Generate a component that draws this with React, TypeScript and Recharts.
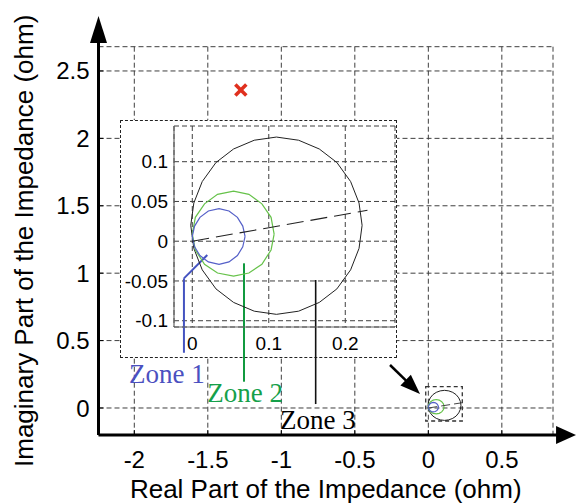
import React from 'react';
import {
  ScatterChart,
  Scatter,
  XAxis,
  YAxis,
  CartesianGrid,
  ReferenceLine,
  ReferenceArea,
  ReferenceDot,
} from 'recharts';

// ---------- data (ohm) ----------
// Zone 3 mho circle (black)
const zone3Circle = [
  { x: 0.222, y: 0.02 }, { x: 0.218, y: 0.048 }, { x: 0.207, y: 0.075 }, { x: 0.189, y: 0.099 },
  { x: 0.166, y: 0.116 }, { x: 0.139, y: 0.127 }, { x: 0.11, y: 0.131 }, { x: 0.081, y: 0.127 },
  { x: 0.054, y: 0.116 }, { x: 0.031, y: 0.099 }, { x: 0.013, y: 0.075 }, { x: 0.002, y: 0.048 },
  { x: -0.002, y: 0.02 }, { x: 0.002, y: -0.009 }, { x: 0.013, y: -0.036 }, { x: 0.031, y: -0.06 },
  { x: 0.054, y: -0.077 }, { x: 0.081, y: -0.088 }, { x: 0.11, y: -0.092 }, { x: 0.139, y: -0.088 },
  { x: 0.166, y: -0.077 }, { x: 0.189, y: -0.06 }, { x: 0.207, y: -0.036 }, { x: 0.218, y: -0.009 },
  { x: 0.222, y: 0.02 },
];
// Zone 2 mho circle (green)
const zone2Circle = [
  { x: 0.107, y: 0.009 }, { x: 0.103, y: 0.03 }, { x: 0.091, y: 0.047 }, { x: 0.074, y: 0.059 },
  { x: 0.054, y: 0.063 }, { x: 0.033, y: 0.059 }, { x: 0.016, y: 0.047 }, { x: 0.004, y: 0.03 },
  { x: 0.0, y: 0.009 }, { x: 0.004, y: -0.011 }, { x: 0.016, y: -0.029 }, { x: 0.033, y: -0.04 },
  { x: 0.054, y: -0.044 }, { x: 0.074, y: -0.04 }, { x: 0.091, y: -0.029 }, { x: 0.103, y: -0.011 },
  { x: 0.107, y: 0.009 },
];
// Zone 1 mho circle (blue)
const zone1Circle = [
  { x: 0.069, y: 0.006 }, { x: 0.066, y: 0.019 }, { x: 0.059, y: 0.03 }, { x: 0.048, y: 0.038 },
  { x: 0.035, y: 0.041 }, { x: 0.021, y: 0.038 }, { x: 0.01, y: 0.03 }, { x: 0.003, y: 0.019 },
  { x: 0.0, y: 0.006 }, { x: 0.003, y: -0.007 }, { x: 0.01, y: -0.018 }, { x: 0.021, y: -0.026 },
  { x: 0.035, y: -0.029 }, { x: 0.048, y: -0.026 }, { x: 0.059, y: -0.018 }, { x: 0.066, y: -0.007 },
  { x: 0.069, y: 0.006 },
];
// line impedance characteristic (dashed)
const lineCharacteristic = [
  { x: 0.0, y: 0.0 },
  { x: 0.229, y: 0.0389 },
];
// measured impedance (red cross)
const measuredImpedance = [{ x: -1.2755, y: 2.359 }];

// ticks
const mainXTicks = [-2, -1.5, -1, -0.5, 0, 0.5];
const mainYTicks = [0, 0.5, 1, 1.5, 2, 2.5];
const insetXTicks = [0, 0.1, 0.2];
const insetYTicks = [-0.1, -0.05, 0, 0.05, 0.1];

// axis ranges
const mainXDomain = [-2.2435, 0.848];
const mainYDomain = [-0.2003, 2.68];
const insetXDomain = [-0.0239, 0.265];
const insetYDomain = [-0.1079, 0.1449];

// axis arrows, zoom box and zoom arrow (main chart, ohm)
const xAxisArrow = [{ x: -2.2435, y: -0.2003 }, { x: 1.0048, y: -0.2003 }];
const yAxisArrow = [{ x: -2.2435, y: -0.2003 }, { x: -2.2435, y: 2.908 }];
const zoomBoxX = [-0.0177, 0.231];
const zoomBoxY = [-0.0964, 0.158];
const zoomArrow = [{ x: -0.2605, y: 0.319 }, { x: -0.0565, y: 0.1039 }];

// zone leader lines and labels (inset chart, ohm)
const zone1Leader = [{ x: 0.0196, y: -0.0174 }, { x: -0.0109, y: -0.0467 }, { x: -0.0109, y: -0.1403 }];
const zone2Leader = [{ x: 0.0676, y: -0.0278 }, { x: 0.0676, y: -0.1767 }];
const zone3Leader = [{ x: 0.1613, y: -0.0488 }, { x: 0.1613, y: -0.2048 }];
const zoneNames = ['Zone 1', 'Zone 2', 'Zone 3'];
const zoneLabelAnchors = [
  { x: -0.0332, y: -0.1667 },
  { x: 0.0691, y: -0.1898 },
  { x: 0.1642, y: -0.2242 },
];

// ---------- styles ----------
const SANS = 'Liberation Sans, Arial, Helvetica, sans-serif';
const SERIF = 'Liberation Serif, Times New Roman, serif';
const GRID = '#3f3f3f';
const C1 = '#5560c8';
const C2 = '#66c24a';
const C3 = '#222';
const LEAD1 = '#4453c0';
const LEAD2 = '#119a3f';
const LEAD3 = '#111';
const zoneColors = ['#4b50c0', '#15a04a', '#000'];

const noPoint = () => <g />;

const XMark = (p: any) => {
  const s = 5.5;
  return (
    <g>
      <line x1={p.cx - s} y1={p.cy - s} x2={p.cx + s} y2={p.cy + s} stroke="#e0301e" strokeWidth={3.5} />
      <line x1={p.cx - s} y1={p.cy + s} x2={p.cx + s} y2={p.cy - s} stroke="#e0301e" strokeWidth={3.5} />
    </g>
  );
};

const makeArrow = (len: number, wid: number, sw: number) => (p: any) => {
  const { x1, y1, x2, y2 } = p;
  const dx = x2 - x1;
  const dy = y2 - y1;
  const d = Math.sqrt(dx * dx + dy * dy) || 1;
  const ux = dx / d;
  const uy = dy / d;
  const bx = x2 - ux * len;
  const by = y2 - uy * len;
  const nx = -uy * (wid / 2);
  const ny = ux * (wid / 2);
  return (
    <g>
      <line x1={x1} y1={y1} x2={bx + ux * 1} y2={by + uy * 1} stroke="#000" strokeWidth={sw} />
      <polygon points={`${x2},${y2} ${bx + nx},${by + ny} ${bx - nx},${by - ny}`} fill="#000" />
    </g>
  );
};

const segs = (pts: { x: number; y: number }[]) =>
  pts.slice(1).map((p, i) => [pts[i], p] as [{ x: number; y: number }, { x: number; y: number }]);

export default function App() {
  return (
    <div style={{ position: 'absolute', left: 0, top: 0, width: 576, height: 503, background: '#fff' }}>
      {/* main chart */}
      <div style={{ position: 'absolute', left: 0, top: 0 }}>
        <ScatterChart width={576} height={503} margin={{ top: 46.7, right: 23, bottom: 0, left: 0 }}>
          <CartesianGrid stroke={GRID} strokeDasharray="5 3" />
          <XAxis
            type="number"
            dataKey="x"
            domain={mainXDomain}
            ticks={mainXTicks}
            allowDataOverflow
            scale="linear"
            height={68}
            axisLine={false}
            tickSize={-5}
            tickMargin={21}
            tickLine={{ stroke: '#000', strokeWidth: 1 }}
            tick={{ fontSize: 24, fill: '#000', fontFamily: SANS }}
            label={{
              value: 'Real Part of the Impedance (ohm)',
              position: 'insideBottom',
              offset: 5,
              style: { fontSize: 26, fill: '#000', fontFamily: SANS },
            }}
          />
          <YAxis
            type="number"
            dataKey="y"
            domain={mainYDomain}
            ticks={mainYTicks}
            allowDataOverflow
            scale="linear"
            width={98.5}
            axisLine={false}
            tickSize={-5}
            tickMargin={14}
            tickLine={{ stroke: '#000', strokeWidth: 1 }}
            tick={{ fontSize: 24, fill: '#000', fontFamily: SANS }}
            label={{
              value: 'Imaginary Part of the Impedance (ohm)',
              angle: -90,
              position: 'insideLeft',
              offset: 24,
              style: { fontSize: 26, fill: '#000', fontFamily: SANS, textAnchor: 'middle' },
            }}
          />
          <ReferenceArea
            x1={zoomBoxX[0]}
            x2={zoomBoxX[1]}
            y1={zoomBoxY[0]}
            y2={zoomBoxY[1]}
            fill="none"
            fillOpacity={0}
            stroke="#333"
            strokeWidth={1.3}
            strokeDasharray="4 3"
            ifOverflow="visible"
          />
          <Scatter data={zone3Circle} line={{ stroke: C3, strokeWidth: 1 }} shape={noPoint} isAnimationActive={false} />
          <Scatter data={zone2Circle} line={{ stroke: C2, strokeWidth: 1.2 }} shape={noPoint} isAnimationActive={false} />
          <Scatter data={zone1Circle} line={{ stroke: C1, strokeWidth: 1.2 }} shape={noPoint} isAnimationActive={false} />
          <Scatter
            data={lineCharacteristic}
            line={{ stroke: '#444', strokeWidth: 1, strokeDasharray: '9 4' }}
            shape={noPoint}
            isAnimationActive={false}
          />
          <Scatter data={measuredImpedance} shape={(p: any) => <XMark {...p} />} isAnimationActive={false} />
          <ReferenceLine segment={xAxisArrow} ifOverflow="visible" stroke="#000" shape={makeArrow(20, 18, 3)} />
          <ReferenceLine segment={yAxisArrow} ifOverflow="visible" stroke="#000" shape={makeArrow(27, 17, 3)} />
          <ReferenceLine segment={zoomArrow} ifOverflow="visible" stroke="#000" shape={makeArrow(20, 15, 2.5)} />
        </ScatterChart>
      </div>

      {/* inset frame */}
      <div
        style={{
          position: 'absolute',
          left: 120,
          top: 120,
          width: 277,
          height: 238,
          background: '#fff',
          border: '1px dashed #222',
          boxSizing: 'border-box',
        }}
      />

      {/* inset chart */}
      <div style={{ position: 'absolute', left: 120, top: 120 }}>
        <ScatterChart width={277} height={320} margin={{ top: 6, right: 2, bottom: 0, left: 0 }}>
          <CartesianGrid stroke={GRID} strokeDasharray="5 3" />
          <XAxis
            type="number"
            dataKey="x"
            domain={insetXDomain}
            ticks={insetXTicks}
            allowDataOverflow
            scale="linear"
            height={113}
            axisLine={{ stroke: '#666', strokeWidth: 1.2 }}
            tickLine={false}
            tickSize={0}
            tickMargin={10}
            tick={{ fontSize: 19, fill: '#000', fontFamily: SANS }}
          />
          <YAxis
            type="number"
            dataKey="y"
            domain={insetYDomain}
            ticks={insetYTicks}
            allowDataOverflow
            scale="linear"
            width={54}
            axisLine={{ stroke: '#666', strokeWidth: 1.2 }}
            tickLine={false}
            tickSize={0}
            tickMargin={6}
            tick={{ fontSize: 19, fill: '#000', fontFamily: SANS }}
          />
          <Scatter data={zone3Circle} line={{ stroke: C3, strokeWidth: 1 }} shape={noPoint} isAnimationActive={false} />
          <Scatter data={zone2Circle} line={{ stroke: C2, strokeWidth: 1.2 }} shape={noPoint} isAnimationActive={false} />
          <Scatter data={zone1Circle} line={{ stroke: C1, strokeWidth: 1.2 }} shape={noPoint} isAnimationActive={false} />
          <Scatter
            data={lineCharacteristic}
            line={{ stroke: '#222', strokeWidth: 1.1, strokeDasharray: '17 7' }}
            shape={noPoint}
            isAnimationActive={false}
          />
          {segs(zone1Leader).map((s, i) => (
            <ReferenceLine key={'l1' + i} segment={s} ifOverflow="visible" stroke={LEAD1} strokeWidth={2} />
          ))}
          {segs(zone2Leader).map((s, i) => (
            <ReferenceLine key={'l2' + i} segment={s} ifOverflow="visible" stroke={LEAD2} strokeWidth={2} />
          ))}
          {segs(zone3Leader).map((s, i) => (
            <ReferenceLine key={'l3' + i} segment={s} ifOverflow="visible" stroke={LEAD3} strokeWidth={1.6} />
          ))}
          {zoneNames.map((name, i) => (
            <ReferenceDot
              key={name}
              x={zoneLabelAnchors[i].x}
              y={zoneLabelAnchors[i].y}
              r={0}
              fill="none"
              stroke="none"
              ifOverflow="visible"
              label={{
                value: name,
                position: 'center',
                fill: zoneColors[i],
                fontSize: 27,
                fontFamily: SERIF,
              }}
            />
          ))}
        </ScatterChart>
      </div>
    </div>
  );
}
